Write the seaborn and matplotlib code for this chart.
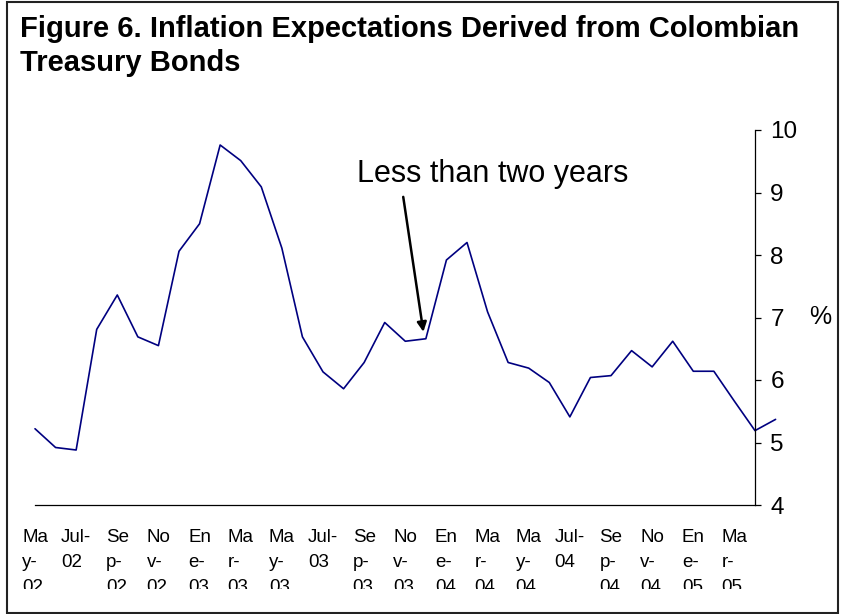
import numpy as np
import pandas as pd
import matplotlib
matplotlib.use("Agg")
import matplotlib.pyplot as plt
import seaborn as sns
from matplotlib.patches import Rectangle
from matplotlib.transforms import Bbox

# monthly series, May-02 .. May-05
months = list(range(37))
expect = [5.22, 4.92, 4.88, 6.81, 7.36, 6.69, 6.55, 8.06, 8.50, 9.76,
          9.51, 9.09, 8.11, 6.69, 6.13, 5.86, 6.28, 6.92, 6.62, 6.66,
          7.92, 8.20, 7.09, 6.28, 6.19, 5.96, 5.41, 6.04, 6.07, 6.47,
          6.21, 6.62, 6.14, 6.14, 5.66, 5.19, 5.37]

tick_pos = list(range(0, 35, 2))
tick_labels = ["Ma\ny-\n02", "Jul-\n02", "Se\np-\n02", "No\nv-\n02", "En\ne-\n03",
               "Ma\nr-\n03", "Ma\ny-\n03", "Jul-\n03", "Se\np-\n03", "No\nv-\n03",
               "En\ne-\n04", "Ma\nr-\n04", "Ma\ny-\n04", "Jul-\n04", "Se\np-\n04",
               "No\nv-\n04", "En\ne-\n05", "Ma\nr-\n05"]
y_ticks = [4, 5, 6, 7, 8, 9, 10]

title_lines = ['Figure 6. Inflation Expectations Derived from Colombian', 'Treasury Bonds']

df = pd.DataFrame({'month': months, 'value': expect})

sns.set_style("white")
plt.rcParams['font.family'] = ['Liberation Sans', 'DejaVu Sans']
plt.rcParams['text.color'] = 'black'
plt.rcParams['xtick.color'] = 'black'
plt.rcParams['ytick.color'] = 'black'

fig = plt.figure(figsize=(8.41, 6.14), dpi=100)
ax = fig.add_axes([35/841, 1 - 505/614, 720/841, 375/614])

sns.lineplot(data=df, x='month', y='value', color='#000080', linewidth=1.2, ax=ax)
for l in ax.lines:
    l.set_clip_on(False)

ax.set_xlim(0, 35)
ax.set_ylim(4, 10)
ax.set_xlabel('')
ax.set_ylabel('')

for s in ['top', 'left']:
    ax.spines[s].set_visible(False)
for s in ['bottom', 'right']:
    ax.spines[s].set_color('black')
    ax.spines[s].set_linewidth(0.9)

ax.yaxis.tick_right()
ax.set_yticks(y_ticks)
ax.tick_params(axis='y', direction='out', length=4, width=0.9, colors='black',
               labelsize=17.5, pad=7)
ax.set_xticks(tick_pos)
ax.set_xticklabels(tick_labels, fontsize=13.5, ha='center', multialignment='left',
                   linespacing=1.62)
ax.tick_params(axis='x', direction='out', length=5, width=0.9, colors='black', pad=12)

# labels are cut off at the bottom, like the original
clip = Bbox.from_extents(0, 25, 841, 614)
for lab in ax.get_xticklabels():
    lab.set_clip_box(clip)
    lab.set_clip_on(True)

fig.text(820/841, 1 - 317/614, '%', fontsize=18, ha='center', va='center')

ax.text(22.25, 9.17, 'Less than two years', fontsize=22, ha='center', va='baseline')
ax.annotate('', xy=(18.88, 6.77), xytext=(17.9, 8.93),
            arrowprops=dict(arrowstyle='-|>', color='black', lw=1.8,
                            mutation_scale=14, shrinkA=0, shrinkB=0))

for i, t in enumerate(title_lines):
    fig.text(20/841, 1 - (37 + 34 * i)/614, t, fontsize=21, fontweight='bold',
             ha='left', va='baseline')

fig.patches.append(Rectangle((7/841, 1/614), 831/841, 611/614, transform=fig.transFigure,
                             fill=False, edgecolor='#222222', linewidth=1.5))

fig.savefig('out.png', dpi=100)
